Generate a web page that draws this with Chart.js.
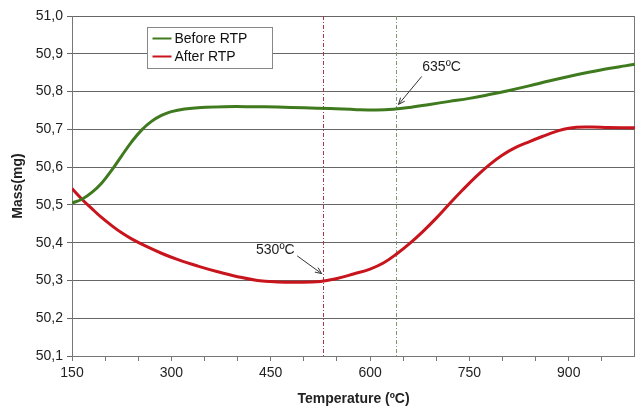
<!DOCTYPE html>
<html>
<head>
<meta charset="utf-8">
<script src="https://cdn.jsdelivr.net/npm/chart.js@4"></script>
<style>
  html, body { margin: 0; padding: 0; background: #fff; }
  #wrap { width: 635px; height: 408px; }
</style>
</head>
<body>
<div id="wrap"><canvas id="tgaChart"></canvas></div>
<script>
// Data
const tempBefore = [150, 165, 180, 195, 210, 225, 240, 255, 270, 285, 300, 320, 345, 380, 420, 460, 500, 540, 580, 610, 635, 660, 690, 720, 750, 780, 810, 840, 870, 900, 930, 960, 985, 1000];
const massBefore = [50.505, 50.515, 50.533, 50.558, 50.592, 50.63, 50.667, 50.698, 50.721, 50.737, 50.747, 50.754, 50.758, 50.76, 50.76, 50.759, 50.757, 50.755, 50.752, 50.751, 50.753, 50.758, 50.766, 50.774, 50.782, 50.792, 50.803, 50.815, 50.828, 50.84, 50.851, 50.861, 50.868, 50.872];

const tempAfter = [150, 165, 180, 195, 210, 225, 240, 260, 285, 310, 340, 370, 400, 430, 460, 490, 525, 550, 575, 600, 620, 640, 660, 680, 700, 720, 740, 760, 780, 800, 820, 840, 860, 880, 900, 930, 960, 1000];
const massAfter = [50.543, 50.515, 50.49, 50.466, 50.445, 50.426, 50.41, 50.392, 50.372, 50.355, 50.338, 50.323, 50.31, 50.30, 50.296, 50.295, 50.297, 50.305, 50.317, 50.33, 50.346, 50.37, 50.398, 50.43, 50.465, 50.503, 50.54, 50.575, 50.606, 50.632, 50.652, 50.667, 50.681, 50.694, 50.703, 50.706, 50.705, 50.704];

const seriesNames = ['Before RTP', 'After RTP'];
// dash-dot marker lines, placed where they sit in the picture
const markerTemps = [530, 640];
const xLabelTicks = [150, 300, 450, 600, 750, 900];

function pairs(xs, ys) {
    return xs.map(function (x, i) { return { x: x, y: ys[i] }; });
}

const FONT = 'Liberation Sans, Arial, sans-serif';
const GREEN = '#3f7a1e';
const RED = '#c8141c';

function arrow(ctx, x1, y1, x2, y2) {
    ctx.beginPath();
    ctx.moveTo(x1, y1);
    ctx.lineTo(x2, y2);
    ctx.stroke();
    const a = Math.atan2(y2 - y1, x2 - x1);
    ctx.beginPath();
    ctx.moveTo(x2, y2);
    ctx.lineTo(x2 - 7 * Math.cos(a - 0.4), y2 - 7 * Math.sin(a - 0.4));
    ctx.moveTo(x2, y2);
    ctx.lineTo(x2 - 7 * Math.cos(a + 0.4), y2 - 7 * Math.sin(a + 0.4));
    ctx.stroke();
}

// markers, annotations, border and legend
const extras = {
    id: 'extras',
    beforeDatasetsDraw: function (chart) {
        const ctx = chart.ctx, a = chart.chartArea, xs = chart.scales.x;
        ctx.save();
        ctx.lineWidth = 1;
        ctx.setLineDash([4, 2, 1, 2]);
        ctx.strokeStyle = '#a8344a';
        let px = Math.floor(xs.getPixelForValue(markerTemps[0])) + 0.5;
        ctx.beginPath(); ctx.moveTo(px, a.top); ctx.lineTo(px, a.bottom); ctx.stroke();
        ctx.strokeStyle = '#7a9a6a';
        px = Math.floor(xs.getPixelForValue(markerTemps[1])) + 0.5;
        ctx.beginPath(); ctx.moveTo(px, a.top); ctx.lineTo(px, a.bottom); ctx.stroke();
        ctx.setLineDash([]);
        // right border
        ctx.strokeStyle = '#777';
        ctx.beginPath(); ctx.moveTo(a.right - 0.5, a.top); ctx.lineTo(a.right - 0.5, a.bottom); ctx.stroke();
        ctx.restore();
    },
    afterDraw: function (chart) {
        const ctx = chart.ctx, xs = chart.scales.x, ys = chart.scales.y;
        ctx.save();
        ctx.fillStyle = '#222';
        ctx.font = '14px ' + FONT;
        ctx.textAlign = 'center';
        ctx.textBaseline = 'middle';
        ctx.fillText('635ºC', xs.getPixelForValue(708), ys.getPixelForValue(50.865));
        ctx.fillText('530ºC', xs.getPixelForValue(457), ys.getPixelForValue(50.379));
        ctx.strokeStyle = '#333';
        ctx.lineWidth = 1;
        arrow(ctx, xs.getPixelForValue(678), ys.getPixelForValue(50.84), xs.getPixelForValue(643), ys.getPixelForValue(50.766));
        arrow(ctx, xs.getPixelForValue(490), ys.getPixelForValue(50.365), xs.getPixelForValue(527), ys.getPixelForValue(50.318));

        // legend box
        const lx = 147.5, ly = 27.5, lw = 125, lh = 41;
        ctx.fillStyle = '#fff';
        ctx.fillRect(lx, ly, lw, lh);
        ctx.strokeStyle = '#888';
        ctx.strokeRect(lx, ly, lw, lh);
        const colors = [GREEN, RED];
        ctx.textAlign = 'left';
        ctx.font = '14px ' + FONT;
        seriesNames.forEach(function (name, i) {
            const yy = ly + 11 + i * 18;
            ctx.strokeStyle = colors[i];
            ctx.lineWidth = 2;
            ctx.beginPath(); ctx.moveTo(lx + 5, yy); ctx.lineTo(lx + 24, yy); ctx.stroke();
            ctx.fillStyle = '#111';
            ctx.fillText(name, lx + 27, yy + 1);
        });
        ctx.restore();
    }
};

new Chart(document.getElementById('tgaChart'), {
    type: 'line',
    data: {
        datasets: [{
            label: seriesNames[0],
            data: pairs(tempBefore, massBefore),
            borderColor: GREEN,
            borderWidth: 3,
            pointRadius: 0,
            tension: 0.4
        }, {
            label: seriesNames[1],
            data: pairs(tempAfter, massAfter),
            borderColor: RED,
            borderWidth: 3,
            pointRadius: 0,
            tension: 0.4
        }]
    },
    options: {
        responsive: true,
        maintainAspectRatio: false,
        animation: false,
        layout: { padding: { top: 16, right: 0, left: 10, bottom: 0 } },
        plugins: {
            legend: { display: false },
            tooltip: { enabled: false }
        },
        scales: {
            x: {
                type: 'linear',
                min: 150,
                max: 1000,
                afterFit: function (s) { s.height = 52; s.paddingRight = 0; },
                border: { color: '#777', width: 1 },
                grid: { drawOnChartArea: false, tickLength: 5, color: '#777' },
                ticks: {
                    stepSize: 50,
                    autoSkip: false,
                    maxRotation: 0,
                    padding: 4,
                    color: '#222',
                    font: { family: FONT, size: 14 },
                    callback: function (v) { return xLabelTicks.indexOf(v) >= 0 ? String(v) : ''; }
                },
                title: {
                    display: true,
                    text: 'Temperature (ºC)',
                    color: '#222',
                    font: { family: FONT, size: 14, weight: 'bold' },
                    padding: { top: 2, bottom: 0 }
                }
            },
            y: {
                min: 50.1,
                max: 51.0,
                afterFit: function (s) { s.width = 62; },
                border: { color: '#777', width: 1 },
                grid: { color: '#666', tickLength: 5 },
                ticks: {
                    stepSize: 0.1,
                    padding: 4,
                    color: '#222',
                    font: { family: FONT, size: 14 },
                    callback: function (v) { return v.toFixed(1).replace('.', ','); }
                },
                title: {
                    display: true,
                    text: 'Mass(mg)',
                    color: '#222',
                    font: { family: FONT, size: 14, weight: 'bold' },
                    padding: { top: 0, bottom: 4 }
                }
            }
        }
    },
    plugins: [extras]
});
</script>
</body>
</html>
